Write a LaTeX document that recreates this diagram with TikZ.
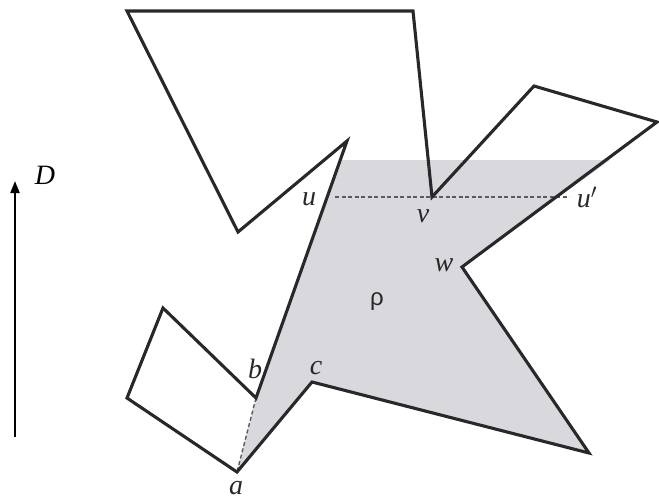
\documentclass[tikz,border=0pt]{standalone}
\usepackage{fontspec}
\setmainfont{Liberation Serif}
\newfontfamily\rhofont{Liberation Sans}
\usetikzlibrary{arrows.meta}
\definecolor{edgecol}{RGB}{40,40,43}
\definecolor{regioncol}{RGB}{216,216,221}
\definecolor{dashcol}{RGB}{90,90,95}
\tikzset{
  outline/.style={draw=edgecol, line width=3.1pt, line join=miter},
  dashedge/.style={draw=dashcol, line width=1.4pt, dash pattern=on 4pt off 2.5pt},
  lab/.style={font=\fontsize{28}{30}\selectfont\itshape, text=edgecol, inner sep=0pt},
}
\begin{document}
\begin{tikzpicture}[x=1pt,y=-1pt]
\useasboundingbox (0,0) rectangle (659,501);
% polygon vertices
\coordinate (TL) at (127,11);
\coordinate (TR) at (413,11);
\coordinate (v) at (432,197);
\coordinate (P1) at (534,86);
\coordinate (P2) at (657,122);
\coordinate (w) at (462,267);
\coordinate (P3) at (589,453);
\coordinate (c) at (312,382);
\coordinate (a) at (237,472);
\coordinate (R1) at (127,398);
\coordinate (R2) at (163,308);
\coordinate (b) at (256,398);
\coordinate (S) at (347,141);
\coordinate (N) at (238,232);
% shaded region rho
\coordinate (G1) at (341,160);
\coordinate (G2) at (610,160);
\coordinate (u) at (335,197);
\coordinate (up) at (569,197);
\fill[fill=regioncol] (G1) -- (G2) -- (w) -- (P3) -- (c) -- (a) -- (b) -- cycle;
% dashed chords
\draw[dashedge] (u) -- (up);
\draw[dashedge] (b) -- (a);
% polygon
\draw[outline] (TL) -- (TR) -- (v) -- (P1) -- (P2) -- (w) -- (P3) -- (c) -- (a)
  -- (R1) -- (R2) -- (b) -- (S) -- (N) -- cycle;
% labels
\node[lab] (lu) at (309,199) {u};
\node[lab] (lv) at (423,216) {v};
\node[lab] (lup) at (587,197) {u$'$};
\node[lab] (lw) at (444,265) {w};
\node[lab] (lb) at (255,369) {b};
\node[lab] (lc) at (316,368) {c};
\node[lab] (la) at (236,488) {a};
\node[font=\rhofont\fontsize{24}{26}\selectfont, text=edgecol, inner sep=0pt] (lrho) at (377,302) {ρ};
% direction arrow
\coordinate (D0) at (15,437);
\coordinate (D1) at (15,181);
\draw[line width=1.9pt, draw=black, -{Triangle[length=12pt,width=9pt]}] (D0) -- (D1);
\node[lab, text=black] (lD) at (45,175) {D};
\end{tikzpicture}
\end{document}
